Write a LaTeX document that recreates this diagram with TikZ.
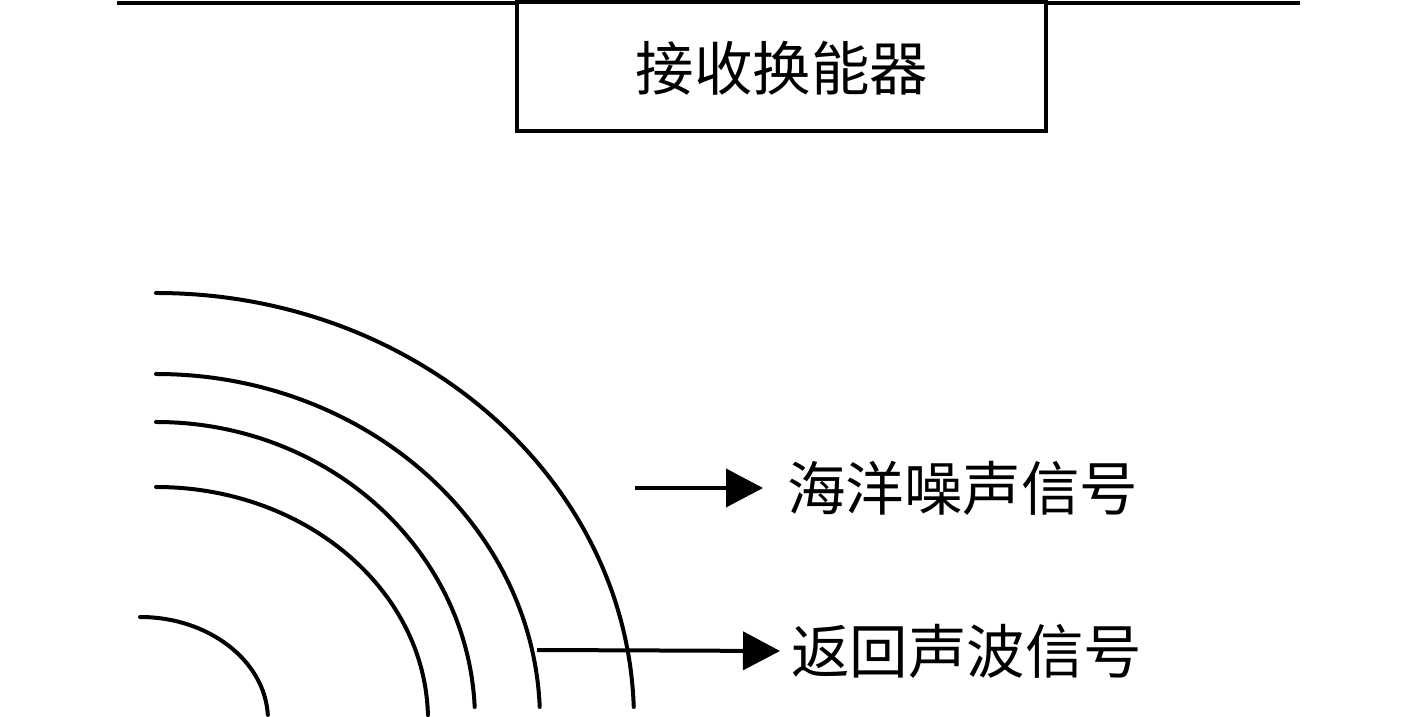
\documentclass[tikz,border=0pt]{standalone}
\usepackage{fontspec}
\newfontfamily\cjk{Noto Sans CJK SC}
\usetikzlibrary{arrows.meta}
\begin{document}
\begin{tikzpicture}[x=1pt,y=1pt,
  wave/.style={line width=4pt,line cap=round},
  arr/.style={line width=4pt,-{Triangle[length=37pt,width=38pt]}},
  lbl/.style={font=\cjk\fontsize{58.5}{60}\selectfont,inner ysep=0pt},
  boxnode/.style={draw,line width=4pt,fill=white,minimum width=529pt,minimum height=129pt,inner sep=0pt}]
\useasboundingbox (0,0) rectangle (1417,717);
% top line and receiver box
\coordinate (L) at (117,714);
\coordinate (R) at (1300,714);
\draw[line width=4.5pt] (L) -- (R);
\node[boxnode] (rx) at (781.5,650) {};
\node[lbl] (rxt) at (782,649) {接收换能器};
% wave arcs
\draw[wave] (156,424) arc[start angle=90,end angle=1.74,x radius=478,y radius=427];
\draw[wave] (156,343) arc[start angle=90,end angle=2.15,x radius=384,y radius=346];
\draw[wave] (156,295) arc[start angle=90,end angle=2.5,x radius=319,y radius=298];
\draw[wave] (156,230) arc[start angle=90,end angle=1.2,x radius=272,y radius=233];
\draw[wave] (140,100) arc[start angle=90,end angle=2.8,x radius=128,y radius=103];
% labels and arrows
\node[lbl,anchor=west,inner xsep=24pt] (noise) at (763,229) {海洋噪声信号};
\node[lbl,anchor=west,inner xsep=11pt] (echo) at (780,66) {返回声波信号};
\coordinate (s1) at (635,229);
\coordinate (s2) at (537,67);
\draw[arr] (s1) -- (noise.west);
\draw[arr] (s2) -- (echo.west);
\end{tikzpicture}
\end{document}
